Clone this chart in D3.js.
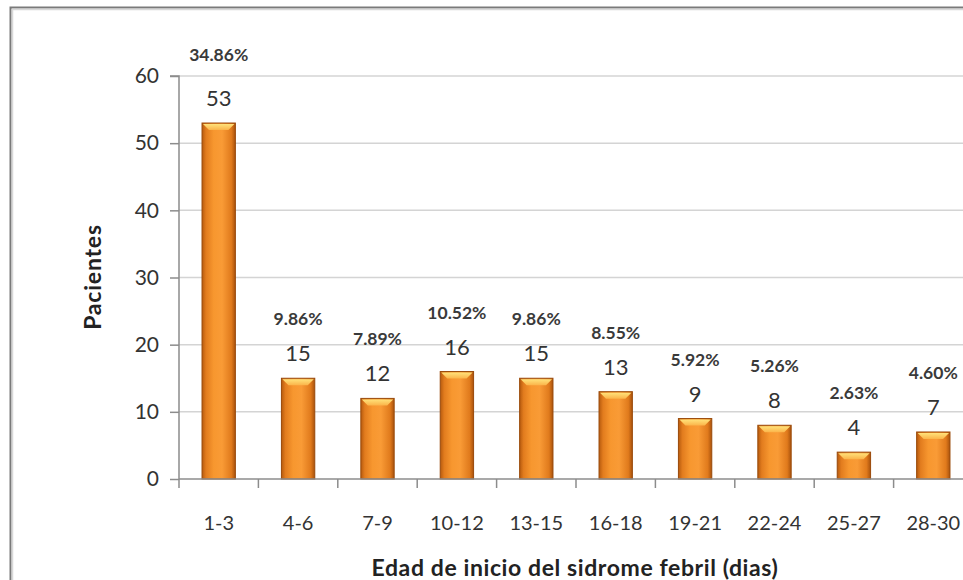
<!DOCTYPE html>
<html>
<head>
<meta charset="utf-8">
<script src="https://cdn.jsdelivr.net/npm/d3@7.9.0/dist/d3.min.js"></script>
<style>
  html, body { margin: 0; padding: 0; background: #fff; }
  svg { display: block; font-family: Lato, "Open Sans", sans-serif; }
</style>
</head>
<body>
<svg id="chart" width="963" height="580"></svg>
<script>
const categories = ['1-3', '4-6', '7-9', '10-12', '13-15', '16-18', '19-21', '22-24', '25-27', '28-30'];
const pacientes = [53, 15, 12, 16, 15, 13, 9, 8, 4, 7];
const porcentajes = ['34.86%', '9.86%', '7.89%', '10.52%', '9.86%', '8.55%', '5.92%', '5.26%', '2.63%', '4.60%'];
const yTicks = [0, 10, 20, 30, 40, 50, 60];

const svg = d3.select('#chart');
const margin = { left: 179, top: 76, right: 973, bottom: 479 };

// outer frame (cut on right and bottom like the picture)
svg.append('path')
  .attr('d', 'M10.5,600 L10.5,7.5 L980,7.5')
  .attr('fill', 'none').attr('stroke', '#7a7a7a').attr('stroke-width', 2);
svg.append('path')
  .attr('d', 'M12.5,600 L12.5,9.5 L980,9.5')
  .attr('fill', 'none').attr('stroke', '#d8d8d8').attr('stroke-width', 1.5);

const x = d3.scaleBand().domain(categories).range([margin.left, margin.right]).paddingInner(0.58).paddingOuter(0.29);
const xb = d3.scaleBand().domain(categories).range([margin.left, margin.right]);
const y = d3.scaleLinear().domain([0, 60]).range([margin.bottom, margin.top]);

// gridlines
svg.append('g').selectAll('line').data(yTicks.filter(d => d > 0)).join('line')
  .attr('x1', margin.left).attr('x2', 980)
  .attr('y1', d => y(d)).attr('y2', d => y(d))
  .attr('stroke', '#d4d4d4').attr('stroke-width', 1.5);

// gradient
const defs = svg.append('defs');
const g = defs.append('linearGradient').attr('id', 'barGrad').attr('x1', 0).attr('x2', 1).attr('y1', 0).attr('y2', 0);
[[0, '#b65a0e'], [0.12, '#e27c1e'], [0.35, '#f7972f'], [0.6, '#f99b36'], [0.88, '#e07a1c'], [1, '#a9520c']]
  .forEach(([o, c]) => g.append('stop').attr('offset', o).attr('stop-color', c));
const gt = defs.append('linearGradient').attr('id', 'topGrad').attr('x1', 0).attr('x2', 0).attr('y1', 0).attr('y2', 1);
[[0, '#ffe27a'], [1, '#fbb44a']].forEach(([o, c]) => gt.append('stop').attr('offset', o).attr('stop-color', c));

const data = categories.map((c, i) => ({ c, v: pacientes[i], p: porcentajes[i] }));

const bars = svg.append('g');
bars.selectAll('rect').data(data).join('rect')
  .attr('x', d => x(d.c)).attr('y', d => y(d.v))
  .attr('width', x.bandwidth()).attr('height', d => y(0) - y(d.v))
  .attr('fill', 'url(#barGrad)').attr('stroke', '#9a4a0a').attr('stroke-width', 1);
// top bevel
bars.selectAll('path.bevel').data(data).join('path').attr('class', 'bevel')
  .attr('d', d => {
    const x0 = x(d.c) + 1, x1 = x(d.c) + x.bandwidth() - 1, t = y(d.v) + 1, b = t + 6;
    return `M${x0},${t} L${x1},${t} L${x1 - 6},${b} L${x0 + 6},${b} Z`;
  })
  .attr('fill', 'url(#topGrad)');

// axes
const yAxis = d3.axisLeft(y).tickValues(yTicks).tickSize(9).tickPadding(11);
const ya = svg.append('g').attr('transform', `translate(${margin.left},0)`).call(yAxis);
ya.select('.domain').attr('stroke', '#8c8c8c').attr('stroke-width', 1.5).attr('d', `M-9,${y(60)}H0V${y(0)}`);
ya.selectAll('.tick line').attr('stroke', '#8c8c8c').attr('stroke-width', 1.5);
ya.selectAll('.tick text').attr('font-size', 21).attr('fill', '#333').attr('font-family', 'Lato, sans-serif');

const xAxis = d3.axisBottom(xb).tickSize(0).tickPadding(0);
const xa = svg.append('g').attr('transform', `translate(0,${margin.bottom})`).call(xAxis);
xa.select('.domain').attr('stroke', '#8c8c8c').attr('stroke-width', 1.5).attr('d', `M${margin.left},0H980`);
xa.selectAll('.tick line').remove();
xa.selectAll('.tick text').attr('dy', 0).attr('y', 51).attr('font-size', 20).attr('fill', '#333').attr('font-family', 'Lato, sans-serif');
// boundary ticks between categories
svg.append('g').selectAll('line').data(categories).join('line')
  .attr('x1', d => xb(d)).attr('x2', d => xb(d))
  .attr('y1', margin.bottom).attr('y2', margin.bottom + 9)
  .attr('stroke', '#8c8c8c').attr('stroke-width', 1.5);

// value labels
svg.append('g').selectAll('text').data(data).join('text')
  .attr('x', d => x(d.c) + x.bandwidth() / 2).attr('y', d => y(d.v) - 17)
  .attr('text-anchor', 'middle').attr('font-size', 22).attr('fill', '#333')
  .text(d => d.v);
// percent labels, pushed above the plot top when the bar is tall
svg.append('g').selectAll('text').data(data).join('text')
  .attr('x', d => x(d.c) + x.bandwidth() / 2)
  .attr('y', d => (y(d.v) - 53 < y(60) + 10) ? y(60) - 15 : y(d.v) - 53)
  .attr('text-anchor', 'middle').attr('font-size', 17.5).attr('font-weight', 'bold').attr('fill', '#3a3a3a')
  .text(d => d.p);

// axis titles
svg.append('text')
  .attr('transform', 'translate(101,277) rotate(-90)')
  .attr('text-anchor', 'middle').attr('font-size', 23).attr('font-weight', 'bold').attr('fill', '#222')
  .attr('letter-spacing', 0.8)
  .text('Pacientes');
svg.append('text')
  .attr('x', 575).attr('y', 576)
  .attr('text-anchor', 'middle').attr('font-size', 23).attr('font-weight', 'bold').attr('fill', '#222')
  .attr('letter-spacing', 0.6)
  .text('Edad de inicio del sidrome febril (dias)');
</script>
</body>
</html>
